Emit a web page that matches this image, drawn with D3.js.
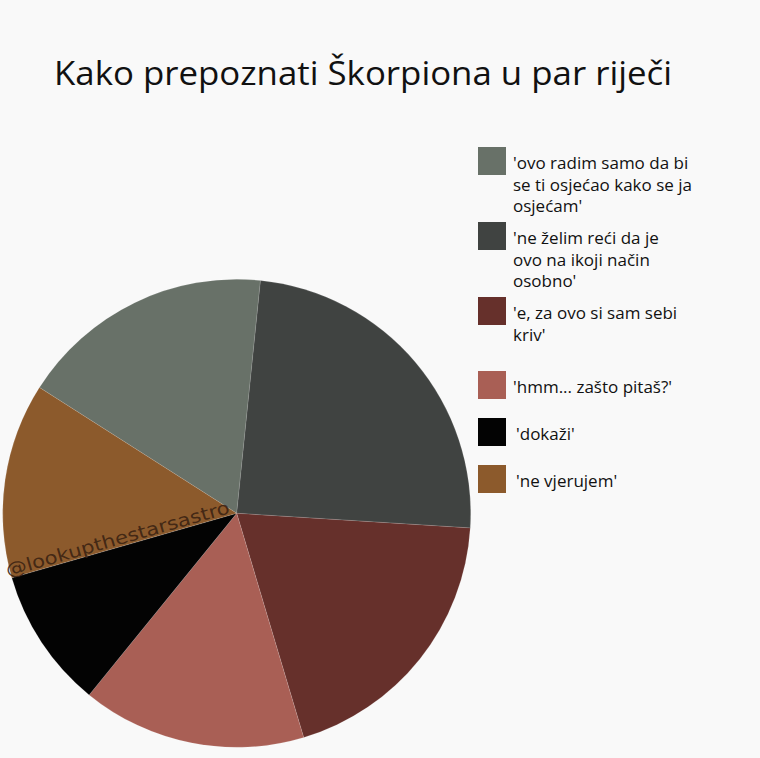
<!DOCTYPE html>
<html>
<head>
<meta charset="utf-8">
<script src="https://cdn.jsdelivr.net/npm/d3@7"></script>
<style>
  html, body { margin: 0; padding: 0; background: #f9f9f9; }
  svg { display: block; }
</style>
</head>
<body>
<svg id="chart" width="760" height="758"></svg>
<script>
const title = "Kako prepoznati Škorpiona u par riječi";
const categories = [
  ["'ovo radim samo da bi", "se ti osjećao kako se ja", "osjećam'"],
  ["'ne želim reći da je", "ovo na ikoji način", "osobno'"],
  ["'e, za ovo si sam sebi", "kriv'"],
  ["'hmm... zašto pitaš?'"],
  ["'dokaži'"],
  ["'ne vjerujem'"]
];
const values = [17.6, 24.4, 19.4, 15.5, 9.7, 13.5];
const colors = ["#687168", "#404341", "#66302b", "#a95f55", "#030303", "#8c5a2c"];
const watermark = "@lookupthestarsastro";

const svg = d3.select("#chart");
svg.append("rect").attr("width", 760).attr("height", 758).attr("fill", "#f9f9f9");

svg.append("text")
  .attr("x", 54).attr("y", 85)
  .attr("font-family", "Open Sans")
  .attr("font-size", 33)
  .attr("fill", "#111")
  .attr("textLength", 618)
  .attr("lengthAdjust", "spacingAndGlyphs")
  .text(title);

const cx = 236.7, cy = 513.3, r = 234;
const start = -57.46 * Math.PI / 180;
const pie = d3.pie().sort(null).value(d => d).startAngle(start).endAngle(start + 2 * Math.PI);
const arc = d3.arc().innerRadius(0).outerRadius(r);
const arcs = pie(values);

const g = svg.append("g").attr("transform", `translate(${cx},${cy})`);
g.selectAll("path").data(arcs).join("path")
  .attr("d", arc)
  .attr("fill", (d, i) => colors[i])
  .attr("stroke", "rgba(255,255,255,0.2)")
  .attr("stroke-width", 0.6);

// watermark along the boundary between black and orange slices
const bAngle = arcs[5].startAngle;
const ex = Math.sin(bAngle) * r, ey = -Math.cos(bAngle) * r;
const rot = Math.atan2(-ey, -ex) * 180 / Math.PI;
g.append("text")
  .attr("transform", `translate(${ex - 4},${ey - 1}) rotate(${rot})`)
  .attr("font-family", "DejaVu Sans")
  .attr("font-size", 18)
  .attr("fill", "#3a2212")
  .attr("fill-opacity", 0.9)
  .attr("textLength", 232)
  .attr("lengthAdjust", "spacingAndGlyphs")
  .text(watermark);

// legend
const legendY = [147, 222, 297, 371, 418, 465];
const textX = [513, 513, 513, 513, 516, 516];
const lg = svg.append("g");
categories.forEach((lines, i) => {
  lg.append("rect")
    .attr("x", 478).attr("y", legendY[i])
    .attr("width", 28).attr("height", 28)
    .attr("fill", colors[i]);
  const t = lg.append("text")
    .attr("x", textX[i]).attr("y", legendY[i] + 22)
    .attr("font-family", "Open Sans")
    .attr("font-size", 17)
    .attr("fill", "#111");
  lines.forEach((ln, j) => {
    t.append("tspan").attr("x", textX[i]).attr("dy", j === 0 ? 0 : 21.5).text(ln);
  });
});
</script>
</body>
</html>
